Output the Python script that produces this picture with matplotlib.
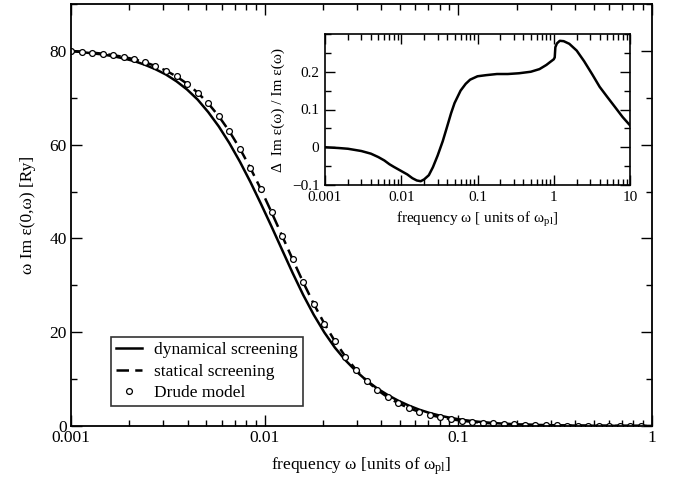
import matplotlib
matplotlib.use("Agg")
import matplotlib.pyplot as plt
from matplotlib.ticker import MultipleLocator, LogLocator, FixedLocator, NullFormatter

plt.rcParams['font.family'] = ['Liberation Serif', 'DejaVu Serif']
plt.rcParams['mathtext.fontset'] = 'custom'
plt.rcParams['mathtext.rm'] = 'Liberation Serif'
plt.rcParams['mathtext.it'] = 'Liberation Serif:italic'

# ---- main panel data ----
freq = [0.001000, 0.001134, 0.001285, 0.001457, 0.001652, 0.001873, 0.002123, 0.002407,
        0.002729, 0.003094, 0.003508, 0.003977, 0.004508, 0.005111, 0.005794, 0.006569,
        0.007447, 0.008443, 0.009572, 0.010851, 0.012303, 0.013947, 0.015812, 0.017927,
        0.020324, 0.023041, 0.026122, 0.029615, 0.033574, 0.038064, 0.043152, 0.048922,
        0.055463, 0.062879, 0.071285, 0.080816, 0.091622, 0.10387, 0.11776, 0.13350,
        0.15136, 0.17159, 0.19454, 0.22055, 0.25003, 0.28347, 0.32137, 0.36435,
        0.41305, 0.46827, 0.53088, 0.60189, 0.68234, 0.77357, 0.87700, 0.99400]

dynamical = [79.98, 79.75, 79.48, 79.24, 78.86, 78.39, 77.82, 77.04,
             76.09, 74.95, 73.50, 71.75, 69.61, 66.95, 63.89, 60.35,
             56.38, 52.03, 47.36, 42.54, 37.57, 32.63, 27.95, 23.71,
             19.96, 16.72, 14.03, 11.71, 9.70, 8.03, 6.62, 5.40,
             4.36, 3.48, 2.76, 2.18, 1.72, 1.34, 1.051, 0.819,
             0.641, 0.499, 0.389, 0.303, 0.235, 0.184, 0.143, 0.111,
             0.0868, 0.0676, 0.0527, 0.0411, 0.0322, 0.0252, 0.0197, 0.0153]

statical = [79.98, 79.83, 79.64, 79.40, 79.10, 78.70, 78.21, 77.58,
            76.78, 75.78, 74.54, 72.99, 71.10, 68.81, 66.07, 62.86,
            59.16, 55.00, 50.44, 45.59, 40.57, 35.54, 30.65, 26.05,
            21.84, 18.08, 14.80, 12.01, 9.66, 7.72, 6.14, 4.86,
            3.83, 3.01, 2.36, 1.85, 1.45, 1.13, 0.883, 0.688,
            0.538, 0.418, 0.326, 0.254, 0.197, 0.154, 0.120, 0.093,
            0.0725, 0.0564, 0.0439, 0.0341, 0.0266, 0.0207, 0.0161, 0.0124]

drude = [79.98, 79.83, 79.64, 79.40, 79.10, 78.70, 78.21, 77.58,
         76.78, 75.78, 74.54, 72.99, 71.10, 68.81, 66.07, 62.86,
         59.16, 55.00, 50.44, 45.59, 40.57, 35.54, 30.65, 26.05,
         21.84, 18.08, 14.80, 12.01, 9.66, 7.72, 6.14, 4.86,
         3.83, 3.01, 2.36, 1.85, 1.45, 1.13, 0.883, 0.688,
         0.538, 0.418, 0.326, 0.254, 0.197, 0.154, 0.120, 0.093,
         0.0725, 0.0564, 0.0439, 0.0341, 0.0266, 0.0207, 0.0161]

main_xticks = [0.001, 0.01, 0.1, 1]
main_xticklabels = ["0.001", "0.01", "0.1", "1"]
main_yticks = [0, 20, 40, 60, 80]

# ---- inset data ----
inset_freq = [0.001, 0.0015, 0.002, 0.003, 0.004, 0.005, 0.006, 0.007, 0.008, 0.01,
              0.012, 0.014, 0.016, 0.018, 0.02, 0.023, 0.026, 0.03, 0.035, 0.04,
              0.045, 0.05, 0.06, 0.07, 0.08, 0.1, 0.13, 0.18, 0.25, 0.35,
              0.5, 0.65, 0.8, 0.9, 1.0, 1.03, 1.05, 1.1, 1.2, 1.35,
              1.6, 2.0, 2.5, 3.2, 4.0, 5.0, 6.5, 8.0, 10.0]
inset_ratio = [0.000, -0.002, -0.004, -0.010, -0.017, -0.026, -0.035, -0.045, -0.052, -0.063,
               -0.072, -0.082, -0.088, -0.090, -0.085, -0.074, -0.053, -0.022, 0.016, 0.055,
               0.090, 0.117, 0.150, 0.168, 0.179, 0.188, 0.191, 0.194, 0.194, 0.196,
               0.200, 0.207, 0.218, 0.226, 0.233, 0.238, 0.265, 0.275, 0.282, 0.281,
               0.274, 0.256, 0.228, 0.193, 0.160, 0.134, 0.104, 0.080, 0.058]

inset_xticks = [0.001, 0.01, 0.1, 1, 10]
inset_xticklabels = ["0.001", "0.01", "0.1", "1", "10"]
inset_yticks = [-0.1, 0.0, 0.1, 0.2]
inset_yticklabels = ["\u22120.1", "0", "0.1", "0.2"]

W, H = 673, 487
fig = plt.figure(figsize=(W / 100, H / 100), dpi=100)

def frac(l, r, t, b):
    return [l / W, 1 - b / H, (r - l) / W, (b - t) / H]

ax = fig.add_axes(frac(71, 652, 4, 426))
ax.plot(freq, dynamical, color='black', lw=1.8, label='dynamical screening')
ax.plot(freq, statical, color='black', lw=1.8, ls=(0, (5, 2.5)), label='statical screening')
ax.plot(freq[:len(drude)], drude, ls='none', marker='o', ms=4.2, mfc='white',
        mec='black', mew=0.9, label='Drude model')
ax.set_xscale('log')
ax.set_xlim(0.001, 1)
ax.set_ylim(0, 90)
ax.xaxis.set_major_locator(FixedLocator(main_xticks))
ax.set_xticklabels(main_xticklabels)
ax.xaxis.set_minor_locator(LogLocator(base=10, subs=range(2, 10)))
ax.xaxis.set_minor_formatter(NullFormatter())
ax.set_yticks(main_yticks)
ax.yaxis.set_minor_locator(MultipleLocator(10))
ax.tick_params(which='both', direction='in', top=True, right=True, width=1.0)
ax.tick_params(which='major', length=8, labelsize=12.5, pad=3)
ax.tick_params(which='minor', length=4.5)
for s in ax.spines.values():
    s.set_linewidth(1.3)
ax.set_xlabel('frequency \u03c9 [units of \u03c9$_{\\mathrm{pl}}$]', fontsize=12.5, labelpad=7)
ax.set_ylabel('\u03c9 Im \u03b5(0,\u03c9) [Ry]', fontsize=12.5, labelpad=10)
leg = ax.legend(loc='lower left', bbox_to_anchor=(0.069, 0.047), borderaxespad=0,
                fontsize=12.5, frameon=True, fancybox=False, handlelength=1.5,
                handletextpad=0.7, borderpad=0.3, labelspacing=0.3)
leg.get_frame().set_edgecolor('black')
leg.get_frame().set_linewidth(1.2)

ins = fig.add_axes(frac(325, 630, 34, 185))
ins.plot(inset_freq, inset_ratio, color='black', lw=1.8)
ins.set_xscale('log')
ins.set_xlim(0.001, 10)
ins.set_ylim(-0.1, 0.3)
ins.xaxis.set_major_locator(FixedLocator(inset_xticks))
ins.set_xticklabels(inset_xticklabels)
ins.xaxis.set_minor_locator(LogLocator(base=10, subs=range(2, 10)))
ins.xaxis.set_minor_formatter(NullFormatter())
ins.set_yticks(inset_yticks)
ins.set_yticklabels(inset_yticklabels)
ins.yaxis.set_minor_locator(MultipleLocator(0.05))
ins.tick_params(which='both', direction='in', top=True, right=True, width=1.0)
ins.tick_params(which='major', length=7, labelsize=11, pad=4)
ins.tick_params(which='minor', length=4)
for s in ins.spines.values():
    s.set_linewidth(1.2)
ins.set_xlabel('frequency \u03c9 [ units of \u03c9$_{\\mathrm{pl}}$]', fontsize=11, labelpad=5)
ins.set_ylabel('\u0394  Im \u03b5(\u03c9) / Im \u03b5(\u03c9)', fontsize=11, labelpad=5)

fig.savefig('out.png', dpi=100)
